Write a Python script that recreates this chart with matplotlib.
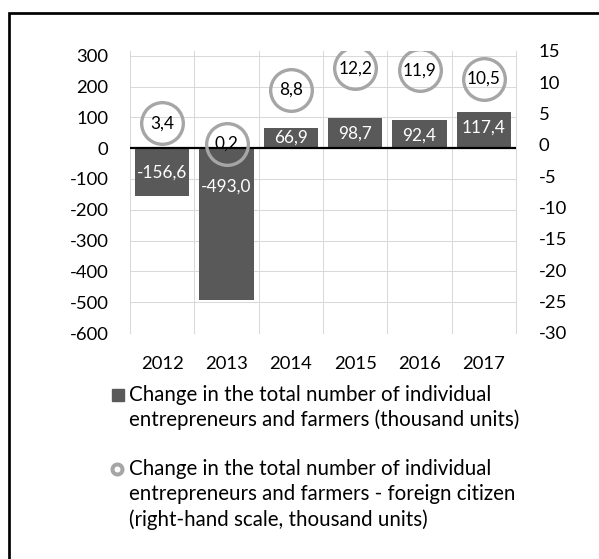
import matplotlib
matplotlib.use("Agg")
import matplotlib.pyplot as plt
from matplotlib.lines import Line2D
from matplotlib.patches import Rectangle

# ---- data -------------------------------------------------------------
years = ["2012", "2013", "2014", "2015", "2016", "2017"]
total_change = [-156.6, -493.0, 66.9, 98.7, 92.4, 117.4]      # thousand units
foreign_change = [3.4, 0.2, 8.8, 12.2, 11.9, 10.5]             # thousand units, right scale
left_ticks = [300, 200, 100, 0, -100, -200, -300, -400, -500, -600]
right_ticks = [15, 10, 5, 0, -5, -10, -15, -20, -25, -30]
legend_labels = [
    "Change in the total number of individual\n"
    "entrepreneurs and farmers (thousand units)",
    "Change in the total number of individual\n"
    "entrepreneurs and farmers - foreign citizen\n"
    "(right-hand scale, thousand units)",
]

# ---- layout / style ---------------------------------------------------
W, H, DPI = 599, 559, 100
plt.rcParams["font.family"] = ["Lato", "DejaVu Sans"]
TXT = 13.3
LEG = 14.8
LBL = 12.4
BAR_C = "#595959"
RING_C = "#a6a6a6"
GRID_C = "#d9d9d9"
PX = 72.0 / DPI  # points per pixel


def fx(px):
    return px / W


def fy(py):
    return 1 - py / H


def fmt(v):
    return f"{v:.1f}".replace(".", ",")


fig = plt.figure(figsize=(W / DPI, H / DPI), dpi=DPI)
fig.patch.set_facecolor("white")

left_px, right_px = 130, 516
bottom_px, top_px, top2_px = 333, 55.7, 50.7

ax = fig.add_axes([fx(left_px), fy(bottom_px),
                   (right_px - left_px) / W, (bottom_px - top_px) / H])
ax2 = fig.add_axes([fx(left_px), fy(bottom_px),
                    (right_px - left_px) / W, (bottom_px - top2_px) / H],
                   sharex=ax)
ax2.patch.set_visible(False)

n = len(years)
xs = list(range(n))

# primary axis: bars
ax.set_xlim(-0.5, n - 0.5)
ax.set_ylim(min(left_ticks), max(left_ticks))
ax.set_yticks(left_ticks, [str(t) for t in left_ticks])
ax.set_xticks(xs, years)
ax.tick_params(axis="both", length=0, labelsize=TXT, colors="black")
ax.tick_params(axis="y", pad=15.6)
ax.tick_params(axis="x", pad=16.8)
for s in ax.spines.values():
    s.set_visible(False)

ax.grid(axis="y", color=GRID_C, lw=0.75, zorder=0)
ax.set_axisbelow(True)
ext = (bottom_px - top2_px) / (bottom_px - top_px)
for b in range(n + 1):
    ax.axvline(b - 0.5, ymin=0, ymax=ext, color=GRID_C, lw=0.75,
               clip_on=False, zorder=0.5)

ax.bar(xs, total_change, width=0.84, color=BAR_C, zorder=2)
ax.axhline(0, color="black", lw=1.6, zorder=2.5)

# bar value labels: anchor mode and pixel offset for each bar
label_spec = [("center", 0), ("base", -38), ("center", 0),
              ("end", -16), ("end", -16), ("end", -16)]
for x, v, (mode, off) in zip(xs, total_change, label_spec):
    y = {"center": v / 2, "base": 0.0, "end": v}[mode]
    ax.annotate(fmt(v), (x, y), xytext=(0, off * PX), textcoords="offset points",
                ha="center", va="center", color="white", fontsize=LBL, zorder=3)

# secondary axis: ring markers
ax2.set_ylim(min(right_ticks), max(right_ticks))
ax2.set_yticks(right_ticks, [str(t) for t in right_ticks])
ax2.yaxis.tick_right()
ax2.tick_params(axis="y", length=0, labelsize=TXT, pad=16.2, colors="black")
ax2.xaxis.set_visible(False)
for s in ax2.spines.values():
    s.set_visible(False)

ax2.plot(xs, foreign_change, ls="none", marker="o", ms=30,
         mfc="none", mec=RING_C, mew=2.4, zorder=3)
for x, v in zip(xs, foreign_change):
    ax2.annotate(fmt(v), (x, v), ha="center", va="center",
                 color="black", fontsize=LBL, zorder=4)

# legend drawn below the plot
fig.add_artist(Line2D([fx(118)], [fy(394.5)], marker="s", ms=12.4 * PX,
                      color=BAR_C, ls="none", transform=fig.transFigure))
fig.add_artist(Line2D([fx(117)], [fy(468.7)], marker="o", ms=10 * PX,
                      mfc="white", mec=RING_C, mew=4 * PX, ls="none",
                      transform=fig.transFigure))
first_baselines = [400.7, 474.7]
step = 25.4
for label, base in zip(legend_labels, first_baselines):
    for k, line in enumerate(label.split("\n")):
        fig.text(fx(129), fy(base + k * step), line, ha="left", va="baseline",
                 fontsize=LEG, color="black")

# outer frame
fig.add_artist(Rectangle((fx(9), -0.2), 1.5, fy(12.7) + 0.2,
                         transform=fig.transFigure, fill=False,
                         ec="black", lw=1.95, clip_on=False))

fig.savefig("out.png", dpi=DPI)
